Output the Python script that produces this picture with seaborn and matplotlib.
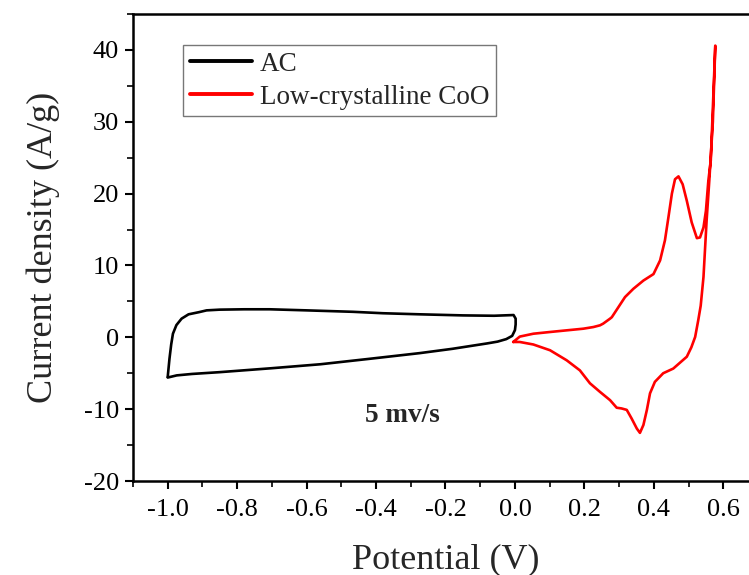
import numpy as np
import pandas as pd
import matplotlib
matplotlib.use("Agg")
import matplotlib.pyplot as plt
from matplotlib.ticker import MultipleLocator
import seaborn as sns

# Cyclic voltammetry loops at 5 mV/s
ac_potential = [-1.000, -0.995, -0.990, -0.985, -0.975, -0.960, -0.940, -0.910, -0.888,
                -0.850, -0.780, -0.706, -0.600, -0.467, -0.380, -0.274, -0.150,
                -0.060, -0.004, 0.002, 0.002, 0.000, -0.008, -0.025, -0.050, -0.080,
                -0.180, -0.274, -0.420, -0.560, -0.700, -0.850, -0.930, -0.974, -1.000]
ac_current = [-5.5, -3.0, -1.0, 0.5, 1.7, 2.6, 3.2, 3.5, 3.75,
              3.85, 3.9, 3.9, 3.75, 3.55, 3.35, 3.2, 3.05,
              3.0, 3.1, 2.6, 1.8, 1.0, 0.2, -0.25, -0.6, -0.85,
              -1.6, -2.2, -3.0, -3.75, -4.3, -4.85, -5.1, -5.3, -5.6]

coo_potential = [-0.005, 0.014, 0.053, 0.101, 0.149, 0.197, 0.226, 0.245, 0.254, 0.274,
                 0.279, 0.298, 0.317, 0.341, 0.370, 0.399, 0.418, 0.432, 0.442, 0.452,
                 0.461, 0.471, 0.483, 0.495, 0.509, 0.524, 0.533, 0.543, 0.550, 0.557,
                 0.564, 0.577, 0.570, 0.560, 0.552, 0.543, 0.535, 0.528, 0.519, 0.508,
                 0.495, 0.456, 0.427, 0.403, 0.389, 0.380, 0.370, 0.360, 0.351, 0.336,
                 0.322, 0.307, 0.293, 0.274, 0.245, 0.216, 0.187, 0.149, 0.101, 0.053,
                 0.014, -0.005]
coo_current = [-0.65, 0.1, 0.5, 0.74, 0.97, 1.2, 1.43, 1.67, 1.9, 2.6,
               2.8, 4.2, 5.6, 6.75, 7.9, 8.8, 10.7, 13.5, 16.7, 20.0,
               22.0, 22.4, 21.3, 19.0, 16.0, 13.8, 13.9, 15.3, 17.6, 21.8,
               24.6, 40.6, 30.0, 22.0, 16.25, 8.4, 4.4, 2.4, 0.05, -1.4,
               -2.7, -4.35, -5.0, -6.2, -7.8, -10.1, -12.2, -13.3, -12.7, -11.3,
               -10.1, -9.9, -9.8, -8.75, -7.6, -6.4, -4.6, -3.2, -1.8, -1.0,
               -0.65, -0.65]

series_names = ["AC", "Low-crystalline CoO"]
series_colors = ["#000000", "#ff0000"]
x_ticks = [-1.0, -0.8, -0.6, -0.4, -0.2, 0.0, 0.2, 0.4, 0.6]
y_ticks = [-20, -10, 0, 10, 20, 30, 40]

df = pd.concat([
    pd.DataFrame({"Potential": ac_potential, "Current": ac_current,
                  "Sample": series_names[0]}),
    pd.DataFrame({"Potential": coo_potential, "Current": coo_current,
                  "Sample": series_names[1]}),
], ignore_index=True)

sns.set_theme(style="white")
plt.rcParams["font.family"] = ["Liberation Serif", "DejaVu Serif"]

fig = plt.figure(figsize=(7.49, 5.75), dpi=100)
ax = fig.add_axes([133 / 749, 94 / 575, 625 / 749, 467 / 575])

sns.lineplot(data=df, x="Potential", y="Current", hue="Sample",
             estimator=None, sort=False, palette=series_colors,
             hue_order=series_names, linewidth=1.9, ax=ax)
for line in ax.get_lines():
    line.set_solid_joinstyle("round")
    line.set_solid_capstyle("round")

ax.set_xlim(-1.1, 0.7)
ax.set_ylim(-20, 45)
ax.set_xticks(x_ticks)
ax.set_xticklabels([f"{v:.1f}" for v in x_ticks])
ax.set_yticks(y_ticks)
ax.set_yticklabels([f"{v:d}" for v in y_ticks])
ax.xaxis.set_minor_locator(MultipleLocator(0.1))
ax.yaxis.set_minor_locator(MultipleLocator(5))

ax.tick_params(axis="both", which="major", direction="out", length=6, width=1.5,
               labelsize=19, color="black", labelcolor="black",
               bottom=True, left=True, top=False, right=False)
ax.tick_params(axis="x", which="major", pad=7)
ax.tick_params(axis="y", which="major", pad=4)
ax.tick_params(axis="both", which="minor", direction="out", length=4, width=1.2,
               color="black", bottom=True, left=True, top=False, right=False)

for side in ["left", "bottom", "top", "right"]:
    ax.spines[side].set_visible(True)
    ax.spines[side].set_color("black")
    ax.spines[side].set_linewidth(1.8)

ax.set_xlabel("Potential (V)", fontsize=26, labelpad=16)
ax.set_ylabel("Current density (A/g)", fontsize=26, labelpad=17)

ax.text(-0.325, -10.9, "5 mv/s", fontsize=19.5, fontweight="bold", ha="center", va="center")

handles, labels = ax.get_legend_handles_labels()
leg = ax.legend(handles[:2], labels[:2], loc="upper left",
                bbox_to_anchor=(0.08, 0.934), borderaxespad=0, fontsize=19.5,
                frameon=True, fancybox=False, edgecolor="#555555", handlelength=2.3,
                handletextpad=0.3, borderpad=0.25, labelspacing=0.3)
leg.get_frame().set_linewidth(1.0)
for line in leg.get_lines():
    line.set_linewidth(2.8)

fig.savefig("out.png", dpi=100)
